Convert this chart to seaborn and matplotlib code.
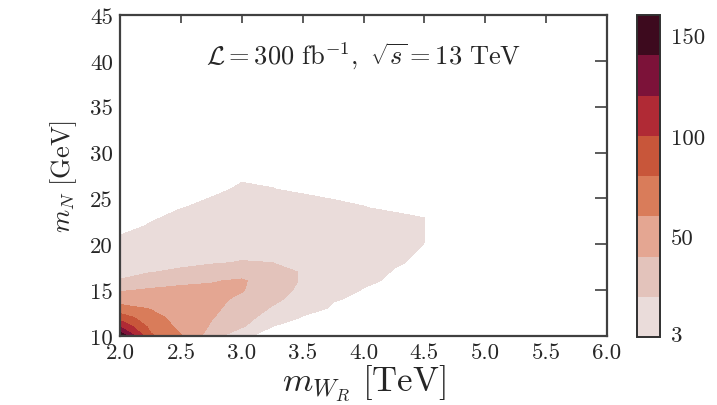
import numpy as np
import matplotlib
matplotlib.use("Agg")
import matplotlib.pyplot as plt
from matplotlib.colors import ListedColormap
import seaborn as sns

# W_R mass grid [TeV] and heavy-neutrino mass grid [GeV]
m_wr_tev = [2.0, 2.25, 2.5, 2.75, 3.0, 3.25, 3.5, 3.75, 4.0, 4.25, 4.5]
m_n_gev = [10, 11, 12, 13, 14, 15, 16, 17, 18, 20, 22, 24, 26, 28]

# expected signal events, one row per m_N value (columns follow m_wr_tev)
events_mn10 = [158, 83, 61, 30, 1.5, 0, 0, 0, 0, 0, 0]
events_mn11 = [120, 75, 55, 38, 22, 0.8, 0, 0, 0, 0, 0]
events_mn12 = [91, 68, 52, 41, 30, 8, 0.3, 0, 0, 0, 0]
events_mn13 = [67, 59, 49, 43, 34, 18, 4, 0.2, 0, 0, 0]
events_mn14 = [51, 50, 46, 44, 37, 25, 11, 1.4, 0, 0, 0]
events_mn15 = [38, 42, 44, 43, 41, 30, 15, 4.5, 0.6, 0, 0]
events_mn16 = [22, 31, 36, 39, 42, 31, 18, 8, 2.2, 0, 0]
events_mn17 = [12, 19, 23, 30, 33, 27, 18.5, 10, 4, 0.6, 0]
events_mn18 = [8, 13, 16, 18, 21, 20, 17, 10.5, 5.5, 1.6, 0]
events_mn20 = [2, 4.5, 8, 10, 12, 12, 11, 9, 6, 3, 0.9]
events_mn22 = [0, 1.25, 4.5, 5, 6, 6.5, 6, 5, 3.5, 2.8, 1.8]
events_mn24 = [0, 0, 0.8, 2.3, 3, 3.5, 2.8, 1.8, 1.1, 0.4, 0]
events_mn26 = [0, 0, 0, 0, 1.6, 1.1, 0.4, 0, 0, 0, 0]
events_mn28 = [0, 0, 0, 0, 0, 0, 0, 0, 0, 0, 0]

event_rows = [events_mn10, events_mn11, events_mn12, events_mn13, events_mn14,
              events_mn15, events_mn16, events_mn17, events_mn18, events_mn20,
              events_mn22, events_mn24, events_mn26, events_mn28]

contour_levels = [1, 20, 40, 60, 80, 100, 120, 140, 160]
cbar_ticks = [3, 50, 100, 150]
x_ticks = [2.0, 2.5, 3.0, 3.5, 4.0, 4.5, 5.0, 5.5, 6.0]
y_ticks = [10, 15, 20, 25, 30, 35, 40, 45]

band_colors = ["#eadcda", "#e3c3bb", "#e4a692", "#d97c5a", "#c8563a",
               "#b02a35", "#7c1239", "#3d0a1e"]

sns.set_style("white")
plt.rcParams["font.family"] = ["cmr10", "DejaVu Serif"]
plt.rcParams["mathtext.fontset"] = "cm"
plt.rcParams["axes.formatter.use_mathtext"] = True
plt.rcParams["axes.unicode_minus"] = False

cmap = ListedColormap(sns.color_palette(band_colors))

fig = plt.figure(figsize=(7.17, 4.06), dpi=100)
ax = fig.add_axes([120 / 717, 1 - 337 / 406, 487 / 717, 321 / 406])
cax = fig.add_axes([637 / 717, 1 - 338 / 406, 23 / 717, 322 / 406])

X, Y = np.meshgrid(m_wr_tev, m_n_gev)
Z = np.array(event_rows, dtype=float)
cs = ax.contourf(X, Y, Z, levels=contour_levels, cmap=cmap)

ax.set_xlim(2.0, 6.0)
ax.set_ylim(10, 45)
ax.set_xticks(x_ticks)
ax.set_xticklabels([f"{v:.1f}" for v in x_ticks])
ax.set_yticks(y_ticks)
ax.set_yticklabels([str(v) for v in y_ticks])

spine_color = "#404040"
for sp in ax.spines.values():
    sp.set_linewidth(1.6)
    sp.set_color(spine_color)
ax.tick_params(axis="both", which="major", direction="in", top=True, right=True,
               labelsize=16.5, color=spine_color, width=1.2, pad=5)
ax.tick_params(axis="y", length=9)
ax.tick_params(axis="x", length=6)

ax.set_xlabel(r"$m_{W_R}\ [\mathrm{TeV}]$", fontsize=25, labelpad=0)
ax.set_ylabel(r"$m_N\ [\mathrm{GeV}]$", fontsize=19, labelpad=8)

ax.text(0.5, 0.875, r"$\mathcal{L}=300\ \mathrm{fb}^{-1},\ \sqrt{s}=13\ \mathrm{TeV}$",
        transform=ax.transAxes, ha="center", va="center", fontsize=19)

cbar = fig.colorbar(cs, cax=cax, ticks=cbar_ticks)
cbar.ax.set_yticklabels([str(t) for t in cbar_ticks])
cbar.outline.set_linewidth(1.4)
cbar.outline.set_edgecolor("#303030")
cbar.ax.tick_params(direction="in", length=8, width=1.2, labelsize=16.5, color="#303030", pad=8)

fig.savefig("out.png", dpi=100)
